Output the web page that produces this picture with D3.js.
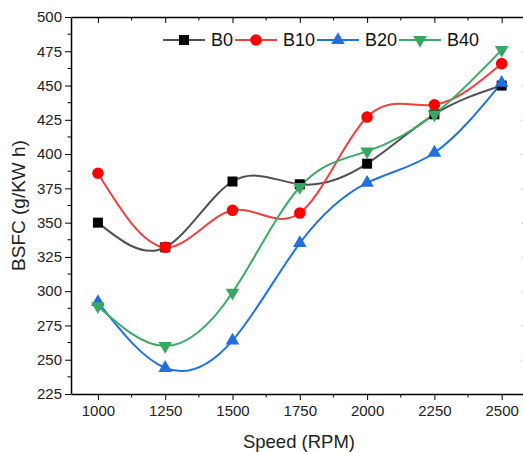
<!DOCTYPE html>
<meta charset="utf-8" />
<script src="https://d3js.org/d3.v7.min.js"></script>
<body style="margin: 0; background-color: #ffffff">
  <div id="chart"></div>
  <script>
    var speeds = [1000, 1250, 1500, 1750, 2000, 2250, 2500];
    var b0 = [350, 332, 380, 378, 393, 429, 450];
    var b10 = [386, 332, 359, 357, 427, 436, 466];
    var b20 = [292, 244, 264, 335, 379, 401, 452];
    var b40 = [289, 260, 299, 376, 402, 429, 476];
    var xTicks = [1000, 1250, 1500, 1750, 2000, 2250, 2500];
    var yTicks = [225, 250, 275, 300, 325, 350, 375, 400, 425, 450, 475, 500];

    var series = [
      { name: "B0", values: b0, line: "#505050", fill: "#000000", shape: d3.symbolSquare, size: 100, rot: 0 },
      { name: "B10", values: b10, line: "#f04040", fill: "#ff0000", shape: d3.symbolCircle, size: 105, rot: 0 },
      { name: "B20", values: b20, line: "#1f73e0", fill: "#1f6fe0", shape: d3.symbolTriangle, size: 80, rot: 0 },
      { name: "B40", values: b40, line: "#3aaa64", fill: "#38a860", shape: d3.symbolTriangle, size: 80, rot: 180 }
    ];

    var W = 523, H = 452;
    var plotLeft = 71, plotTop = 17, plotBottom = 394;

    var svg = d3.select("#chart").append("svg")
      .attr("width", W).attr("height", H)
      .style("font-family", "Arial, 'Liberation Sans', sans-serif");

    var x = d3.scaleLinear().domain([900, 2600]).range([plotLeft, 528.6]);
    var y = d3.scaleLinear().domain([225, 500]).range([plotBottom, plotTop]);

    var minorX = d3.range(1125, 2600, 250);
    var minorY = d3.range(237.5, 500, 25);

    // bottom axis
    var gx = svg.append("g").attr("transform", "translate(0," + plotBottom + ")")
      .call(d3.axisBottom(x).tickValues(xTicks).tickFormat(d3.format("d"))
        .tickSize(6).tickSizeOuter(0).tickPadding(5));
    gx.append("g").selectAll("line").data(minorX).enter().append("line")
      .attr("x1", x).attr("x2", x).attr("y1", 0).attr("y2", 3.5).attr("stroke", "#000");
    // top axis (ticks inside)
    var gt = svg.append("g").attr("transform", "translate(0," + plotTop + ")")
      .call(d3.axisTop(x).tickValues(xTicks).tickSize(-6).tickSizeOuter(0).tickFormat(""));
    gt.append("g").selectAll("line").data(minorX).enter().append("line")
      .attr("x1", x).attr("x2", x).attr("y1", 0).attr("y2", 3.5).attr("stroke", "#000");
    // left axis
    var gy = svg.append("g").attr("transform", "translate(" + plotLeft + ",0)")
      .call(d3.axisLeft(y).tickValues(yTicks).tickSize(6).tickSizeOuter(0).tickPadding(3));
    gy.append("g").selectAll("line").data(minorY).enter().append("line")
      .attr("y1", y).attr("y2", y).attr("x1", 0).attr("x2", -3.5).attr("stroke", "#000");
    // right axis (ticks inside)
    var gr = svg.append("g").attr("transform", "translate(" + x(2600) + ",0)")
      .call(d3.axisRight(y).tickValues(yTicks).tickSize(-6).tickSizeOuter(0).tickFormat(""));
    gr.append("g").selectAll("line").data(minorY).enter().append("line")
      .attr("y1", y).attr("y2", y).attr("x1", 0).attr("x2", -3.5).attr("stroke", "#000");

    svg.selectAll(".domain").attr("stroke", "#000").attr("stroke-width", 1.5);
    svg.selectAll(".tick line").attr("stroke", "#000");
    gx.selectAll("text").style("font-size", "15px").attr("fill", "#222");
    gy.selectAll("text").style("font-size", "15px").attr("fill", "#222");

    svg.append("text").attr("x", (plotLeft + 523) / 2 + 2).attr("y", 448)
      .attr("text-anchor", "middle").style("font-size", "18.5px").attr("fill", "#222")
      .text("Speed (RPM)");
    svg.append("text").attr("transform", "translate(25," + (plotTop + plotBottom) / 2 + ") rotate(-90)")
      .attr("text-anchor", "middle").style("font-size", "19px").attr("fill", "#222")
      .text("BSFC (g/KW h)");

    var line = d3.line()
      .x(function (d, i) { return x(speeds[i]); })
      .y(function (d) { return y(d); })
      .curve(d3.curveNatural);

    series.forEach(function (s) {
      svg.append("path").attr("d", line(s.values))
        .attr("fill", "none").attr("stroke", s.line).attr("stroke-width", 2);
    });
    series.forEach(function (s) {
      var sym = d3.symbol().type(s.shape).size(s.size);
      svg.append("g").selectAll("path").data(s.values).enter().append("path")
        .attr("d", sym)
        .attr("transform", function (d, i) {
          return "translate(" + x(speeds[i]) + "," + y(d) + ") rotate(" + s.rot + ")";
        })
        .attr("fill", s.fill);
    });

    // legend
    var lx = [163, 235, 317, 399];
    var ly = 40;
    series.forEach(function (s, i) {
      var g = svg.append("g").attr("transform", "translate(" + lx[i] + "," + ly + ")");
      g.append("line").attr("x1", 0).attr("x2", 42).attr("y1", 0).attr("y2", 0)
        .attr("stroke", s.line).attr("stroke-width", 2);
      g.append("path").attr("d", d3.symbol().type(s.shape).size(s.size)())
        .attr("transform", "translate(21,0) rotate(" + s.rot + ")").attr("fill", s.fill);
      g.append("text").attr("x", 48).attr("y", 0).attr("dy", "0.35em")
        .style("font-size", "18px").attr("fill", "#111").text(s.name);
    });
  </script>
</body>
